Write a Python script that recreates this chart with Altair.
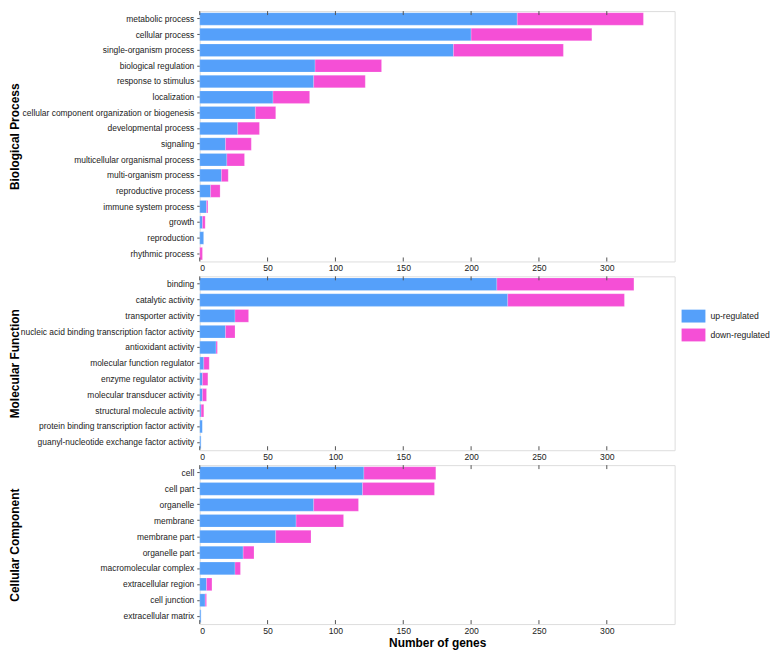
import altair as alt
import pandas as pd

FONT = "Liberation Sans"
BLUE = "#55a0fa"
PINK = "#f54fd6"

tick_values = [0, 50, 100, 150, 200, 250, 300]
legend_labels = ["up-regulated", "down-regulated"]

bp_terms = ["metabolic process", "cellular process", "single-organism process",
            "biological regulation", "response to stimulus", "localization",
            "cellular component organization or biogenesis", "developmental process",
            "signaling", "multicellular organismal process", "multi-organism process",
            "reproductive process", "immune system process", "growth",
            "reproduction", "rhythmic process"]
bp_up = [234, 200, 187, 85, 84, 54, 41, 28, 19, 20, 16, 8, 5, 2, 3, 0]
bp_down = [93, 89, 81, 49, 38, 27, 15, 16, 19, 13, 5, 7, 1, 2, 0, 2]

mf_terms = ["binding", "catalytic activity", "transporter activity",
            "nucleic acid binding transcription factor activity", "antioxidant activity",
            "molecular function regulator", "enzyme regulator activity",
            "molecular transducer activity", "structural molecule activity",
            "protein binding transcription factor activity",
            "guanyl-nucleotide exchange factor activity"]
mf_up = [219, 227, 26, 19, 12, 3, 2, 2, 1, 2, 1]
mf_down = [101, 86, 10, 7, 1, 4, 4, 3, 2, 0, 0]

cc_terms = ["cell", "cell part", "organelle", "membrane", "membrane part",
            "organelle part", "macromolecular complex", "extracellular region",
            "cell junction", "extracellular matrix"]
cc_up = [121, 120, 84, 71, 56, 32, 26, 5, 4, 1]
cc_down = [53, 53, 33, 35, 26, 8, 4, 4, 1, 0]


def panel(name, terms, up, down, h, xtitle):
    rows = []
    for t, u, d in zip(terms, up, down):
        rows.append({"term": t, "regulation": legend_labels[0], "ord": 0, "count": u})
        rows.append({"term": t, "regulation": legend_labels[1], "ord": 1, "count": d})
    df = pd.DataFrame(rows)

    xaxis_kw = dict(values=tick_values, ticks=False, domain=False, grid=False,
                    labelPadding=2, labelFontSize=8.7, labelColor="#222", labelFont=FONT)
    if xtitle:
        xaxis_kw.update(title=xtitle, titleFontSize=12, titleFontWeight="bold",
                        titleFont=FONT, titlePadding=3, titleColor="#000")
    else:
        xaxis_kw.update(title="")
    xscale = alt.Scale(domain=[0, 350], nice=False, zero=True)

    bars = alt.Chart(df).mark_bar(stroke="white", strokeWidth=0.4, strokeOpacity=0.5).encode(
        x=alt.X("count:Q", stack="zero", scale=xscale, axis=alt.Axis(**xaxis_kw)),
        y=alt.Y("term:N", sort=terms,
                scale=alt.Scale(paddingInner=0.2, paddingOuter=0.1),
                axis=alt.Axis(title=name, titleX=-191, titleY=h / 2, titleAngle=270,
                              titleAlign="center", titleBaseline="top",
                              titleFontSize=12, titleFontWeight="bold", titleFont=FONT,
                              titleColor="#000",
                              labelFontSize=8.5, labelFont=FONT, labelColor="#222",
                              labelPadding=3, tickSize=3, tickColor="#555",
                              domain=False, grid=False, labelLimit=300)),
        color=alt.Color("regulation:N",
                        scale=alt.Scale(domain=legend_labels, range=[BLUE, PINK]),
                        legend=alt.Legend(title=None, orient="none", legendX=485, legendY=295,
                                          symbolType="M-1,-0.54H1V0.54H-1Z", symbolSize=576,
                                          symbolStrokeWidth=0, symbolOpacity=1,
                                          labelFontSize=8.7, labelFont=FONT, labelColor="#222",
                                          labelOffset=5, rowPadding=-7, padding=0)),
        order=alt.Order("ord:Q"),
    )

    tdf = pd.DataFrame({"count": tick_values})
    top_ticks = alt.Chart(tdf).mark_rule(color="#555", strokeWidth=1).encode(
        x=alt.X("count:Q", scale=xscale), y=alt.value(0), y2=alt.value(4))
    bot_ticks = alt.Chart(tdf).mark_rule(color="#555", strokeWidth=1).encode(
        x=alt.X("count:Q", scale=xscale), y=alt.value(h - 4), y2=alt.value(h))

    return alt.layer(bars, top_ticks, bot_ticks).properties(width=478, height=h)


chart = alt.vconcat(
    panel("Biological Process", bp_terms, bp_up, bp_down, 252, None),
    panel("Molecular Function", mf_terms, mf_up, mf_down, 175, None),
    panel("Cellular Component", cc_terms, cc_up, cc_down, 160, "Number of genes"),
    spacing=2,
).properties(
    padding=0
).configure_view(
    stroke="#555", strokeWidth=1.2
).configure(
    font=FONT
)

chart.save("out.html", embed_options={"renderer": "svg", "actions": False})
